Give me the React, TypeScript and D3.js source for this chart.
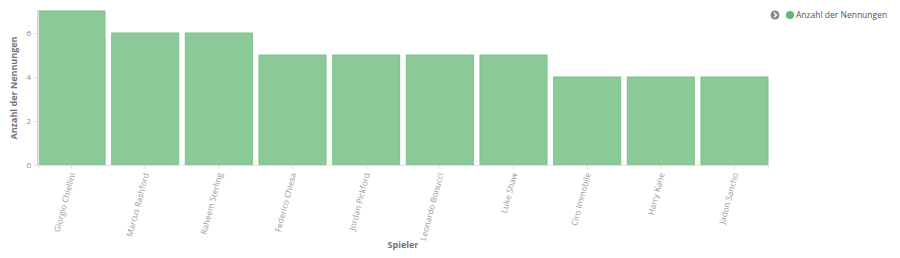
import React, { useEffect, useRef } from "react";
import * as d3 from "d3";

const players = [
  "Giorgio Chiellini",
  "Marcus Rashford",
  "Raheem Sterling",
  "Federico Chiesa",
  "Jordan Pickford",
  "Leonardo Bonucci",
  "Luke Shaw",
  "Ciro Immobile",
  "Harry Kane",
  "Jadon Sancho",
];
const mentions = [7, 6, 6, 5, 5, 5, 5, 4, 4, 4];
const yTicks = [0, 2, 4, 6];
const seriesName = "Anzahl der Nennungen";
const xTitle = "Spieler";

const W = 900;
const H = 258;
const FONT = "'Open Sans', sans-serif";

export default function App() {
  const ref = useRef<SVGSVGElement>(null);
  useEffect(() => {
    const svg = d3.select(ref.current);
    svg.selectAll("*").remove();
    const left = 38, right = 768, top = 11, bottom = 165;
    const x = d3.scaleBand<string>().domain(players).range([left, right]).paddingInner(0.09).paddingOuter(0);
    const y = d3.scaleLinear().domain([0, 7]).range([bottom, top]);

    svg.append("g").selectAll("rect").data(players).join("rect")
      .attr("x", (d) => x(d)!)
      .attr("y", (_d, i) => y(mentions[i]))
      .attr("width", x.bandwidth())
      .attr("height", (_d, i) => bottom - y(mentions[i]))
      .attr("fill", "#8cc998")
      .attr("stroke", "#7bc18a")
      .attr("stroke-width", 1);

    const yAxis = svg.append("g").attr("transform", `translate(${left},0)`)
      .call(d3.axisLeft(y).tickValues(yTicks).tickFormat(d3.format("d")).tickSize(4).tickSizeOuter(0).tickPadding(3));
    yAxis.select(".domain").attr("stroke", "#e3e3e3");
    yAxis.selectAll(".tick line").attr("stroke", "#ddd");
    yAxis.selectAll(".tick text").attr("fill", "#8a8a8a").attr("font-size", 8).attr("font-family", FONT);

    const xAxis = svg.append("g").attr("transform", `translate(0,${bottom})`)
      .call(d3.axisBottom(x).tickSize(4).tickSizeOuter(4));
    xAxis.select(".domain").attr("stroke", "#e3e3e3");
    xAxis.selectAll(".tick line").attr("stroke", "#ddd");
    xAxis.selectAll(".tick text")
      .attr("fill", "#9a9a9a")
      .attr("font-size", 8.3)
      .attr("font-family", FONT)
      .attr("text-anchor", "end")
      .attr("dy", "0.35em")
      .attr("transform", "translate(1,8) rotate(-75)")
      .attr("x", 0)
      .attr("y", 0);

    svg.append("text")
      .attr("transform", `translate(17,${(top + bottom) / 2}) rotate(-90)`)
      .attr("text-anchor", "middle")
      .attr("font-family", FONT)
      .attr("font-size", 9)
      .attr("font-weight", "bold")
      .attr("fill", "#6e727c")
      .text(seriesName);

    svg.append("text")
      .attr("x", (left + right) / 2)
      .attr("y", 248)
      .attr("text-anchor", "middle")
      .attr("font-family", FONT)
      .attr("font-size", 9)
      .attr("font-weight", "bold")
      .attr("fill", "#6e727c")
      .text(xTitle);

    const lg = svg.append("g").attr("transform", "translate(775,15)");
    lg.append("circle").attr("r", 4.5).attr("fill", "#8a8a8a");
    lg.append("path").attr("d", "M-1,-2.2 L1.5,0 L-1,2.2").attr("fill", "none").attr("stroke", "#fff").attr("stroke-width", 1.3);
    lg.append("circle").attr("cx", 15).attr("r", 4).attr("fill", "#5cb870");
    lg.append("text").attr("x", 21).attr("y", 3.2)
      .attr("font-family", FONT).attr("font-size", 8.5).attr("fill", "#555")
      .text(seriesName);
  }, []);
  return (
    <svg ref={ref} width={W} height={H} style={{ position: "absolute", left: 0, top: 0, background: "#fff" }} />
  );
}
